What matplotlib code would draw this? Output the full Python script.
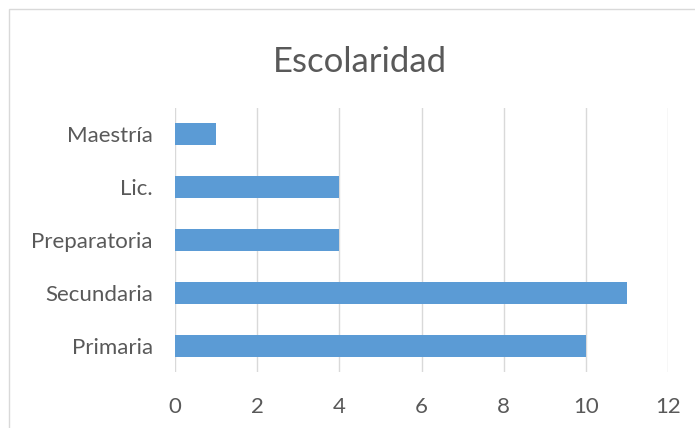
import matplotlib
matplotlib.use('Agg')
from matplotlib import pyplot as plt
from matplotlib.patches import Rectangle

categories = ['Primaria', 'Secundaria', 'Preparatoria', 'Lic.', 'Maestría']
values = [10, 11, 4, 4, 1]
xticks = [0, 2, 4, 6, 8, 10, 12]

BAR = '#5b9bd5'
GRID = '#d9d9d9'
TEXT = '#595959'

plt.rcParams['font.family'] = ['Lato', 'DejaVu Sans']

fig = plt.figure(figsize=(6.95, 4.28), dpi=100)
fig.patch.set_facecolor('white')

# chart area border (runs off the right and bottom edges)
fig.patches.append(Rectangle((9 / 695, -0.1), 1.2, 1.1 - 9 / 428,
                             transform=fig.transFigure, fill=False,
                             edgecolor=GRID, linewidth=1.0))

ax = fig.add_axes([175 / 695, 1 - 372 / 428, 493 / 695, 264 / 428])
ax.barh(range(len(categories)), values, height=0.42, color=BAR, zorder=3)

ax.set_xlim(0, 12)
ax.set_ylim(-0.5, len(categories) - 0.5)
ax.set_xticks(xticks)
ax.set_xticklabels([str(t) for t in xticks])
ax.set_yticks(range(len(categories)))
ax.set_yticklabels(categories)

ax.grid(axis='x', color=GRID, linewidth=1.0, zorder=0)
for s in ax.spines.values():
    s.set_visible(False)
ax.tick_params(axis='both', length=0, labelsize=16, labelcolor=TEXT)
ax.tick_params(axis='y', pad=16)
ax.tick_params(axis='x', pad=18)

fig.text(360 / 695, 1 - 62 / 428, 'Escolaridad', ha='center', va='center',
         fontsize=25, color=TEXT)

fig.savefig('out.png', dpi=100)
